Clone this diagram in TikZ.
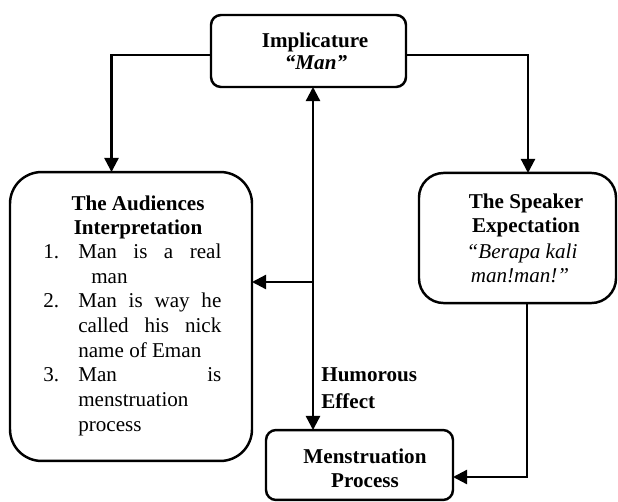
\documentclass[tikz,border=0pt]{standalone}
\usepackage{fontspec}
\setmainfont{Liberation Serif}
\usetikzlibrary{arrows.meta}
\begin{document}
\begin{tikzpicture}[x=0.569pt,y=-0.569pt,
  box/.style={draw,line width=1.4pt,inner sep=0pt,outer sep=0pt},
  arr/.style={line width=1.3pt,-{Triangle[length=8pt,width=8pt]}},
  txt/.style={inner sep=0pt,anchor=base,font=\fontsize{12}{14}\selectfont}]
\useasboundingbox (0,0) rectangle (618,502);
% boxes
\node[box,rounded corners=5.7pt,minimum width=110.96pt,minimum height=40.97pt] (imp) at (308.5,51) {};
\node[box,rounded corners=18pt,minimum width=137.7pt,minimum height=164.4pt] (aud) at (131,316.5) {};
\node[box,rounded corners=14pt,minimum width=112.1pt,minimum height=74pt] (spk) at (517.5,238) {};
\node[box,rounded corners=5.7pt,minimum width=106.4pt,minimum height=39.8pt] (men) at (359.5,465) {};
% texts
\node[txt,font=\fontsize{12}{14}\selectfont\bfseries] (impt1) at (315,48) {Implicature};
\node[txt,font=\fontsize{12}{14}\selectfont\bfseries\itshape] (impt2) at (316,70) {“Man”};
\node[txt,font=\fontsize{12}{14}\selectfont\bfseries] (audt1) at (138,211) {The Audiences};
\node[txt,font=\fontsize{12}{14}\selectfont\bfseries] (audt2) at (138,235) {Interpretation};
\node[inner sep=0pt,anchor=base west,align=left,font=\fontsize{12}{14}\selectfont] (list) at (43,431) {%
\makebox[19.9pt][l]{1.}\makebox[81.4pt][s]{Man is a real}\\
\makebox[19.9pt][l]{}\hspace{7.4pt}man\\
\makebox[19.9pt][l]{2.}\makebox[81.4pt][s]{Man is way he}\\
\makebox[19.9pt][l]{}\makebox[81.4pt][s]{called his nick}\\
\makebox[19.9pt][l]{}name of Eman\\
\makebox[19.9pt][l]{3.}\makebox[81.4pt][s]{Man is}\\
\makebox[19.9pt][l]{}menstruation\\
\makebox[19.9pt][l]{}process};
\node[txt,font=\fontsize{12}{14}\selectfont\bfseries] (spkt1) at (526,209) {The Speaker};
\node[txt,font=\fontsize{12}{14}\selectfont\bfseries] (spkt2) at (526,233) {Expectation};
\node[txt,font=\fontsize{12}{14}\selectfont\itshape] (spkt3) at (522,259) {“Berapa kali};
\node[txt,font=\fontsize{12}{14}\selectfont\itshape] (spkt4) at (520,282) {man!man!”};
\node[txt,font=\fontsize{12}{14}\selectfont\bfseries] (ment1) at (365,463) {Menstruation};
\node[txt,font=\fontsize{12}{14}\selectfont\bfseries] (ment2) at (365,487) {Process};
\node[inner sep=0pt,anchor=base west,align=left,font=\fontsize{12}{14.8}\selectfont\bfseries] (hum) at (321,408) {Humorous\\Effect};
% connectors
\coordinate (bl) at (111.5,55);
\coordinate (br) at (528,55);
\coordinate (c) at (313,282);
\coordinate (bs) at (527,477);
\draw[arr] (imp.west |- bl) -| (aud.north -| bl);
\draw[arr] (imp.east |- br) -| (spk.north -| br);
\draw[arr] (c) -- (imp.south -| c);
\draw[arr] (c) -- (men.north -| c);
\draw[arr] (c) -- (aud.east |- c);
\draw[arr] (spk.south -| bs) |- (men.east |- bs);
\end{tikzpicture}
\end{document}
